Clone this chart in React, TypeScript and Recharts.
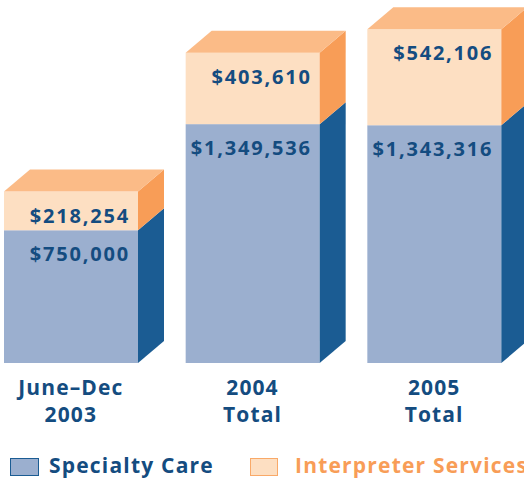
import React from "react";
import { BarChart, Bar, XAxis, YAxis } from "recharts";

const categories = ["June–Dec 2003", "2004 Total", "2005 Total"];
const specialtyCare = [750000, 1349536, 1343316];
const interpreterServices = [218254, 403610, 542106];
const seriesNames = ["Specialty Care", "Interpreter Services"];

const data = categories.map((c, i) => ({
  name: c,
  specialty: specialtyCare[i],
  interpreter: interpreterServices[i],
}));

const FONT = "'Open Sans', Lato, sans-serif";
const TEXT_BLUE = "#144C80";
const DX = 26;
const DY = 22;

const fmt = (v: number) => "$" + v.toLocaleString("en-US");

const makeShape = (front: string, side: string, top: string | null) => (props: any) => {
  const { x, y, width: w, height: h, value } = props;
  const v = Array.isArray(value) ? value[1] - value[0] : value;
  return (
    <g>
      <rect x={x} y={y} width={w} height={h} fill={front} />
      <polygon
        points={`${x + w},${y} ${x + w + DX},${y - DY} ${x + w + DX},${y + h - DY} ${x + w},${y + h}`}
        fill={side}
      />
      {top && (
        <polygon
          points={`${x},${y} ${x + DX},${y - DY} ${x + w + DX},${y - DY} ${x + w},${y}`}
          fill={top}
        />
      )}
      <text
        x={x + w - 8}
        y={y + 31}
        textAnchor="end"
        fontFamily={FONT}
        fontWeight={700}
        fontSize={20}
        fill={TEXT_BLUE}
        letterSpacing={1.8}
      >
        {fmt(v)}
      </text>
    </g>
  );
};

const Tick = (props: any) => {
  const { x, payload } = props;
  const s = String(payload.value);
  const idx = s.lastIndexOf(" ");
  const l1 = s.slice(0, idx);
  const l2 = s.slice(idx + 1);
  return (
    <text textAnchor="middle" fontFamily={FONT} fontWeight={700} fontSize={21} fill={TEXT_BLUE} letterSpacing={1.1}>
      <tspan x={x} y={395}>{l1}</tspan>
      <tspan x={x} y={422}>{l2}</tspan>
    </text>
  );
};

export default function App() {
  return (
    <div style={{ position: "absolute", left: 0, top: 0, width: 524, height: 479, overflow: "hidden", background: "#fff" }}>
      <BarChart
        width={524}
        height={479}
        data={data}
        margin={{ top: 9, right: -1, bottom: 46, left: -20 }}
        barSize={134}
      >
        <XAxis dataKey="name" axisLine={false} tickLine={false} height={70} tick={<Tick />} interval={0} />
        <YAxis hide domain={[0, 2000000]} />
        <Bar dataKey="specialty" name={seriesNames[0]} stackId="a" isAnimationActive={false} shape={makeShape("#9BAFCF", "#1B5C93", null)} />
        <Bar dataKey="interpreter" name={seriesNames[1]} stackId="a" isAnimationActive={false} shape={makeShape("#FDDFC2", "#F89D57", "#FBBB87")} />
      </BarChart>
      <div style={{ position: "absolute", left: 0, top: 456, width: 524, height: 24, fontFamily: FONT, fontWeight: 700, fontSize: 21 }}>
        <div style={{ position: "absolute", left: 10, top: 2, width: 27, height: 16, background: "#9BAFCF", border: "1.5px solid #1B5C93" }} />
        <div style={{ position: "absolute", left: 49, top: -3, color: TEXT_BLUE, whiteSpace: "nowrap", lineHeight: "24px", letterSpacing: 1.2 }}>{seriesNames[0]}</div>
        <div style={{ position: "absolute", left: 250, top: 2, width: 26, height: 16, background: "#FDDFC2", border: "1.5px solid #F9A968" }} />
        <div style={{ position: "absolute", left: 295, top: -3, color: "#F89D57", whiteSpace: "nowrap", lineHeight: "24px", letterSpacing: 1.2 }}>{seriesNames[1]}</div>
      </div>
    </div>
  );
}
